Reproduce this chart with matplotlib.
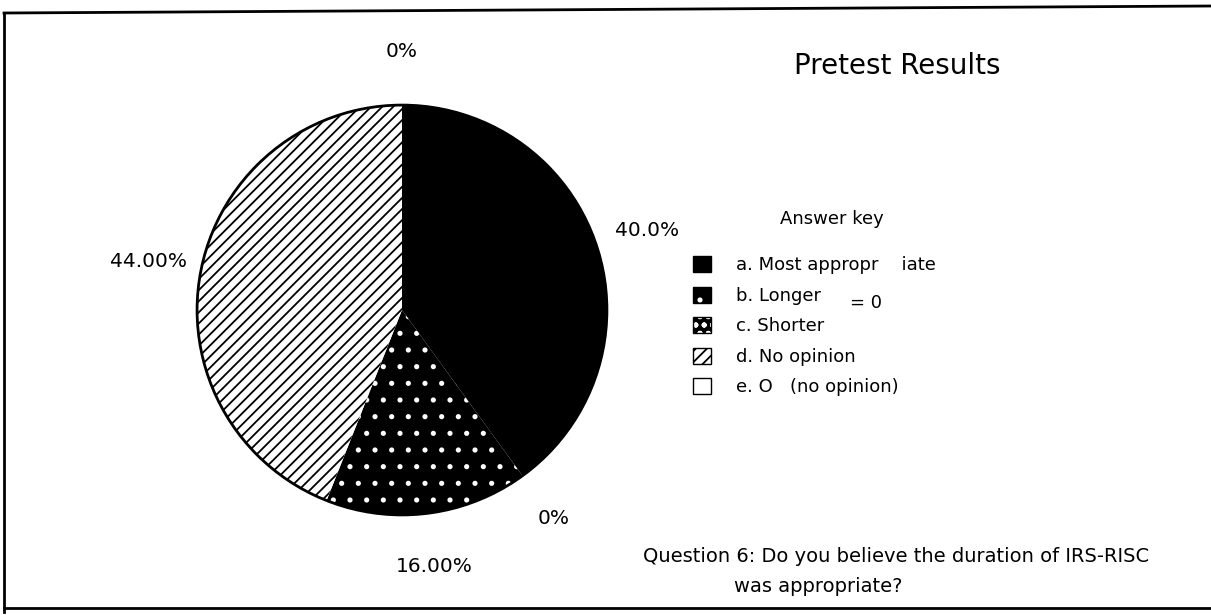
import matplotlib.pyplot as plt
from matplotlib.patches import Rectangle, Circle
from matplotlib.lines import Line2D
from matplotlib.legend_handler import HandlerTuple

# answer key categories and shares (%), clockwise from 12 o'clock
answers = ['a. Most appropr    iate', 'b. Longer', 'c. Shorter', 'd. No opinion', 'e. O   (no opinion)']
shares = [40.0, 0.0, 16.0, 44.0, 0.0]
pct_labels = ['40.0%', '0%', '16.00%', '44.00%', '0%']

faces = ['black', 'black', 'black', 'white', 'white']
hatches = [None, None, '.', '///', None]
hatch_cols = ['black', 'black', 'white', 'black', 'black']

plt.rcParams['font.family'] = ['DejaVu Sans']
plt.rcParams['hatch.linewidth'] = 1.3

W, H = 1211, 615
fig = plt.figure(figsize=(W / 100, H / 100), dpi=100)

# outer frame of the scanned page (no right side visible)
for xs, ys in [((4, 4), (13, 612)), ((4, 1211), (13, 6)), ((4, 1211), (608, 608))]:
    fig.add_artist(Line2D([x / W for x in xs], [1 - y / H for y in ys],
                          transform=fig.transFigure, color='black', linewidth=2))

ax = fig.add_axes([152 / W, 55 / H, 500 / W, 500 / H])
wedges, texts = ax.pie(shares, labels=pct_labels, startangle=90, counterclock=False,
                       labeldistance=1.26, radius=1.0,
                       textprops={'fontsize': 14.5})
for w, fc, h, hc in zip(wedges, faces, hatches, hatch_cols):
    w.set_facecolor(fc)
    w.set_edgecolor(hc)
    w.set_linewidth(0)
    if h:
        w.set_hatch(h)
for t in texts:
    t.set_ha('center')
ax.add_patch(Circle((0, 0), 1.0, fill=False, edgecolor='black', linewidth=2))
ax.set_xlim(-1.22, 1.22)
ax.set_ylim(-1.22, 1.22)
ax.set_aspect('equal')
ax.axis('off')

# legend (answer key)
outline = dict(facecolor='none', edgecolor='black', linewidth=1)
handles = [
    Rectangle((0, 0), 1, 1, facecolor='black', edgecolor='black'),
    (Rectangle((0, 0), 1, 1, facecolor='black', edgecolor='white', hatch='.', linewidth=0),
     Rectangle((0, 0), 1, 1, **outline)),
    (Rectangle((0, 0), 1, 1, facecolor='black', edgecolor='white', hatch='oo', linewidth=0),
     Rectangle((0, 0), 1, 1, **outline)),
    Rectangle((0, 0), 1, 1, facecolor='white', edgecolor='black', hatch='///'),
    Rectangle((0, 0), 1, 1, facecolor='white', edgecolor='black'),
]
leg = fig.legend(handles, answers, loc='upper left', handler_map={tuple: HandlerTuple(ndivide=1)},
                 bbox_to_anchor=(684 / W, 1 - 247 / H), frameon=False,
                 fontsize=13, handlelength=1.0, handleheight=1.0,
                 handletextpad=1.4, labelspacing=0.68, borderpad=0)
fig.text(832 / W, 1 - 219 / H, 'Answer key', fontsize=13, ha='center', va='center')
fig.text(850 / W, 1 - 303 / H, '= 0', fontsize=13, va='center', ha='left')

fig.text(897 / W, 1 - 66 / H, 'Pretest Results', fontsize=20, ha='center', va='center')
fig.text(896 / W, 1 - 557 / H, 'Question 6: Do you believe the duration of IRS-RISC',
         fontsize=14, ha='center', va='center')
fig.text(818 / W, 1 - 586 / H, 'was appropriate?', fontsize=14, ha='center', va='center')

fig.savefig('out.png', dpi=100)
